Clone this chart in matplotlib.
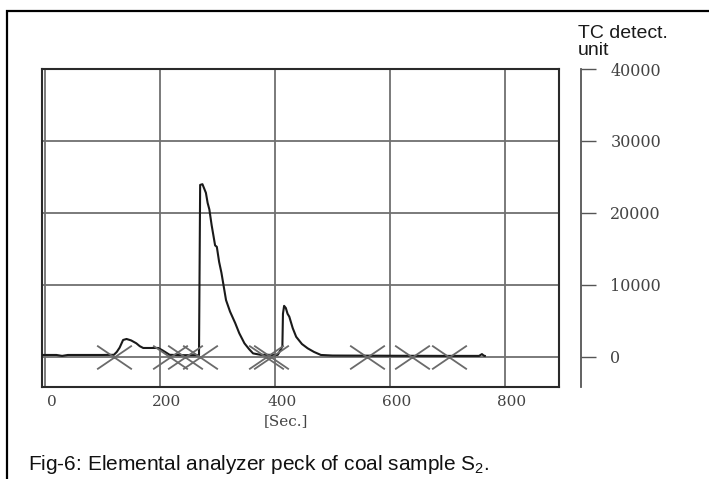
import matplotlib.pyplot as plt
from matplotlib.path import Path
from matplotlib.patches import Rectangle
import matplotlib.transforms as mtransforms

# Data
time_s = [-3, 20, 30, 40, 100, 120, 125, 130, 136, 142, 150, 159, 165, 171, 197, 205, 217,
          240, 268, 269, 270, 274, 278, 280, 283, 286, 290, 296, 299, 303, 307, 311, 315,
          322, 331, 338, 347, 355, 362, 375, 390, 400, 405, 410, 413, 414, 416, 419, 422,
          425, 431, 437, 447, 457, 468, 480, 500, 600, 700, 755, 760, 763, 765]
signal = [280, 280, 150, 280, 280, 300, 700, 1300, 2360, 2500, 2300, 1900, 1500, 1250, 1250,
          900, 300, 250, 250, 12000, 23900, 24000, 23200, 22800, 21400, 20500, 18300, 15500,
          15300, 13200, 11700, 9800, 7900, 6300, 4700, 3300, 1900, 1100, 500, 300, 300, 250,
          300, 1000, 1500, 6000, 7100, 6800, 6000, 5600, 4000, 2800, 1800, 1200, 700, 280,
          200, 170, 150, 150, 400, 200, 150]
# integration markers (X) on the baseline
cross_times = [121, 217, 243, 270, 385, 393, 560, 638, 703]

x_ticks = [0, 200, 400, 600, 800]
y_ticks = [0, 10000, 20000, 30000, 40000]

W, H = 709, 479
fig = plt.figure(figsize=(W / 100, H / 100), dpi=100)
ax = fig.add_axes([42 / W, (H - 387) / H, (559 - 42) / W, (387 - 69) / H])

ax.plot(time_s, signal, color='#1a1a1a', lw=1.5, zorder=3)

# wide, flat X marker
xm = Path([(-1, -0.68), (1, 0.68), (-1, 0.68), (1, -0.68)],
          [Path.MOVETO, Path.LINETO, Path.MOVETO, Path.LINETO])
ax.plot(cross_times, [0] * len(cross_times), linestyle='none', marker=xm,
        markersize=25, markeredgewidth=1.3, markeredgecolor='#6a6a6a',
        markerfacecolor='none', zorder=4)

ax.set_xlim(-5, 894)
ax.set_ylim(-4170, 40000)
ax.set_xticks(x_ticks)
ax.set_yticks([0, 10000, 20000, 30000])
ax.grid(True, color='#707070', lw=1.3)
ax.tick_params(axis='x', length=0, pad=6, labelsize=11, labelcolor='#444444')
ax.tick_params(axis='y', length=0, labelleft=False)
for lbl in ax.get_xticklabels():
    lbl.set_family('DejaVu Serif')
    lbl.set_transform(lbl.get_transform() + mtransforms.ScaledTranslation(7 / 100, 0, fig.dpi_scale_trans))
for s in ax.spines.values():
    s.set_color('#2a2a2a')
    s.set_linewidth(1.5)

ax.set_xlabel('[Sec.]', family='DejaVu Serif', fontsize=11, color='#444444', labelpad=5)
ax.xaxis.set_label_coords(0.472, -0.085)

# separate value scale on the right
ax2 = ax.twinx()
ax2.set_ylim(ax.get_ylim())
ax2.set_yticks(y_ticks)
for side in ['top', 'bottom', 'left']:
    ax2.spines[side].set_visible(False)
ax2.spines['right'].set_position(('outward', 16))
ax2.spines['right'].set_color('#555555')
ax2.spines['right'].set_linewidth(1.3)
ax2.tick_params(axis='y', direction='out', length=11, width=1.0, color='#555555',
                pad=10, labelsize=11.5, labelcolor='#444444')
for lbl in ax2.get_yticklabels():
    lbl.set_family('DejaVu Serif')

fig.text(578 / W, 1 - 42 / H, 'TC detect.\nunit', fontsize=14, color='#1a1a1a',
         family='Liberation Sans', ha='left', va='center', linespacing=1.05)

fig.text(28 / W, 1 - 464 / H, r'Fig-6: Elemental analyzer peck of coal sample S$_\mathregular{2}$.',
         family='Liberation Sans', fontsize=15, color='#111111',
         ha='left', va='center')

# page frame
fig.add_artist(Rectangle((7 / W, -0.1), 1.5, (H - 11) / H + 0.1, transform=fig.transFigure,
                         fill=False, edgecolor='black', lw=1.6))

fig.savefig('out.png', dpi=100)
